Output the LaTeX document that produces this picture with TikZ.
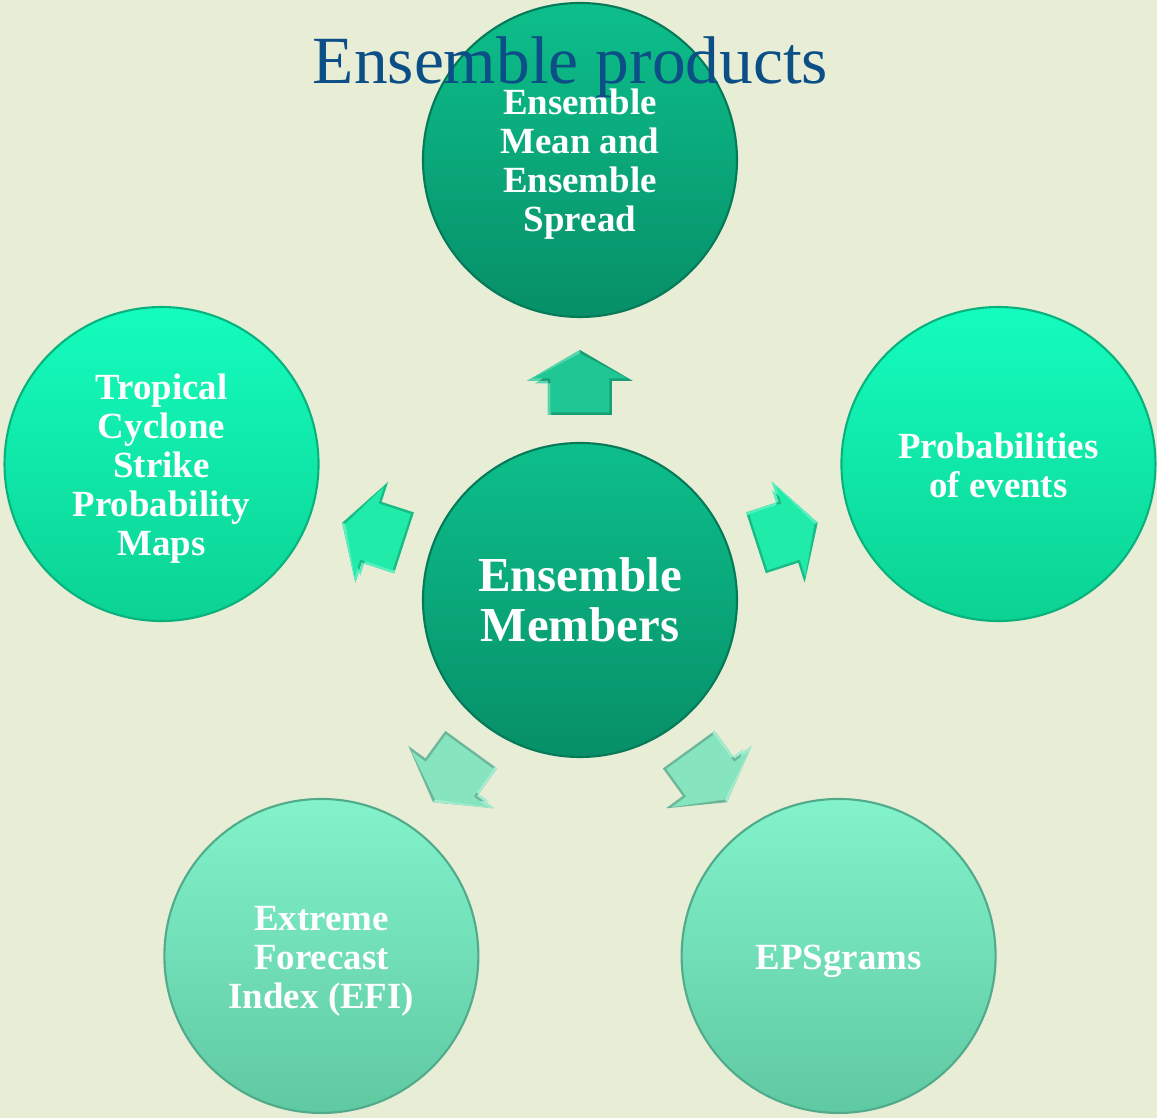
\documentclass[tikz,border=0pt]{standalone}
\usepackage{fontspec}
\setmainfont{Liberation Serif}
\usepackage{tikz}
\usetikzlibrary{positioning}

\definecolor{bgpaper}{HTML}{E8EDD6}
\definecolor{titleblue}{HTML}{0B4F86}
\definecolor{deeptop}{HTML}{0DBF8B}
\definecolor{deepbot}{HTML}{078F68}
\definecolor{brighttop}{HTML}{14FDBE}
\definecolor{brightbot}{HTML}{0BD293}
\definecolor{paletop}{HTML}{82F3CB}
\definecolor{palebot}{HTML}{5FC9A2}
\definecolor{deeparrow}{HTML}{1FC794}
\definecolor{brightarrow}{HTML}{20EBA8}
\definecolor{palearrow}{HTML}{86E5BF}

% block arrow pointing outwards from the middle circle
\newcommand{\prodarrow}[2]{%
  \begin{scope}[rotate=#1]
    \fill[#2!80!black] (1.85,-0.32) -- (1.85,0.32) -- (2.19,0.32) -- (2.19,0.53)
      -- (2.50,0) -- (2.19,-0.53) -- (2.19,-0.32) -- cycle;
    \fill[#2!75!white] (1.85,0.32) -- (2.19,0.32) -- (2.19,0.53) -- (2.50,0)
      -- (2.46,0) -- (2.165,0.45) -- (2.165,0.29) -- (1.85,0.29) -- cycle;
    \fill[#2] (1.875,-0.295) -- (1.875,0.295) -- (2.215,0.295) -- (2.215,0.475)
      -- (2.465,0) -- (2.215,-0.475) -- (2.215,-0.295) -- cycle;
  \end{scope}}

\begin{document}
\begin{tikzpicture}[
    prod/.style={circle, minimum size=3.14cm, inner sep=0pt, line width=.6pt},
    prodtext/.style={align=center, text=white, inner sep=0pt,
      font=\bfseries\fontsize{10.5}{11.1}\selectfont},
    deep/.style={prod, top color=deeptop, bottom color=deepbot, draw=deepbot!85!black},
    bright/.style={prod, top color=brighttop, bottom color=brightbot, draw=brightbot!85!black},
    pale/.style={prod, top color=paletop, bottom color=palebot, draw=palebot!85!black}]

  \fill[bgpaper] (-5.80,-5.18) rectangle (5.77,6.00);
  \useasboundingbox (-5.80,-5.18) rectangle (5.77,6.00);

  % arrows
  \prodarrow{90}{deeparrow}
  \prodarrow{162}{brightarrow}
  \prodarrow{18}{brightarrow}
  \prodarrow{234}{palearrow}
  \prodarrow{306}{palearrow}

  % circles
  \node[deep] (members) at (0,0) {};
  \node[deep] (meanspread) at (90:4.4) {};
  \node[bright] (tcmaps) at (162:4.4) {};
  \node[bright] (probs) at (18:4.4) {};
  \node[pale] (efi) at (234:4.4) {};
  \node[pale] (epsgrams) at (306:4.4) {};

  % texts
  \node[prodtext, font=\bfseries\fontsize{13.9}{14.2}\selectfont] (members-t) at (members.center) {Ensemble\\Members};
  \node[prodtext] (meanspread-t) at ([yshift=-.04cm]meanspread.center) {Ensemble\\Mean and\\Ensemble\\Spread};
  \node[prodtext] (tcmaps-t) at ([yshift=-.045cm]tcmaps.center) {Tropical\\Cyclone\\Strike\\Probability\\Maps};
  \node[prodtext] (probs-t) at ([yshift=-.01cm]probs.center) {Probabilities\\of events};
  \node[prodtext] (efi-t) at ([yshift=-.05cm]efi.center) {Extreme\\Forecast\\Index (EFI)};
  \node[prodtext] (epsgrams-t) at ([yshift=-.05cm]epsgrams.center) {EPSgrams};

  \node[anchor=base, text=titleblue, font=\fontsize{19.2}{23}\selectfont] (title) at (-0.095,5.16) {Ensemble products};
\end{tikzpicture}
\end{document}
